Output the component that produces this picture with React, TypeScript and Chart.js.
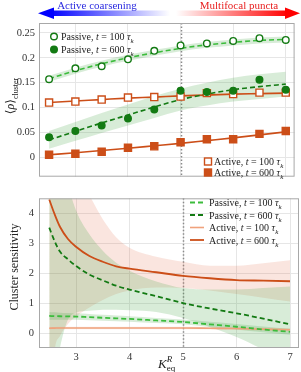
import React, { useEffect, useRef } from "react";
import { Chart, registerables } from "chart.js";
Chart.register(...registerables);

const FONT = '"Liberation Serif", "DejaVu Serif", serif';

// ---------- top panel data ----------
const kEq = [2.5, 3, 3.5, 4, 4.5, 5, 5.5, 6, 6.5, 7];
const passive100 = [0.157, 0.179, 0.183, 0.197, 0.214, 0.225, 0.229, 0.234, 0.2395, 0.236];
const passive600 = [0.04, 0.053, 0.064, 0.078, 0.096, 0.134, 0.131, 0.134, 0.156, 0.136];
const active100 = [0.11, 0.112, 0.116, 0.12, 0.121, 0.122, 0.129, 0.127, 0.13, 0.13];
const active600 = [0.005, 0.007, 0.011, 0.019, 0.022, 0.03, 0.036, 0.036, 0.047, 0.053];
const passive100Fit = [0.158, 0.174, 0.188, 0.2, 0.21, 0.219, 0.226, 0.231, 0.235, 0.237];
const passive600Fit = [0.035, 0.052, 0.069, 0.085, 0.101, 0.116, 0.127, 0.136, 0.142, 0.147];
const active100Fit = [0.11, 0.113, 0.116, 0.119, 0.121, 0.1235, 0.125, 0.127, 0.128, 0.129];
const active600Fit = [0.005, 0.009, 0.0135, 0.018, 0.023, 0.028, 0.0335, 0.039, 0.045, 0.051];
const passive100Half = [0.006, 0.006, 0.006, 0.006, 0.006, 0.006, 0.006, 0.006, 0.006, 0.006];
const passive600Half = [0.018, 0.019, 0.02, 0.021, 0.022, 0.022, 0.023, 0.024, 0.025, 0.025];

const xTicks = [3, 4, 5, 6, 7];
const topYTicks = [0, 0.05, 0.1, 0.15, 0.2, 0.25];
const topYLabels = ["0", "0.05", "0.1", "0.15", "0.2", "0.25"];

// ---------- bottom panel data ----------
const kFine = [2.5, 2.6, 2.7, 2.85, 3, 3.25, 3.5, 3.75, 4, 4.5, 5, 5.5, 6, 6.5, 7];
const sensP100 = [0.57, 0.565, 0.56, 0.555, 0.55, 0.53, 0.51, 0.49, 0.47, 0.42, 0.37, 0.29, 0.21, 0.12, 0.04];
const sensP600 = [3.52, 3.07, 2.72, 2.46, 2.24, 1.95, 1.76, 1.58, 1.45, 1.23, 1.0, 0.82, 0.66, 0.48, 0.29];
const sensA100 = [0.16, 0.165, 0.17, 0.17, 0.17, 0.17, 0.17, 0.17, 0.17, 0.17, 0.17, 0.16, 0.15, 0.13, 0.11];
const sensA600 = [4.46, 3.97, 3.55, 3.14, 2.88, 2.57, 2.38, 2.23, 2.15, 2.03, 1.91, 1.83, 1.77, 1.75, 1.73];
const sensP100Half = [0.13, 0.125, 0.12, 0.115, 0.11, 0.105, 0.1, 0.095, 0.09, 0.085, 0.08, 0.085, 0.09, 0.095, 0.1];
const sensA100Half = [0.04, 0.04, 0.04, 0.04, 0.04, 0.04, 0.04, 0.04, 0.04, 0.04, 0.04, 0.04, 0.045, 0.05, 0.05];
const sensP600Upper = [9, 8, 6.5, 5, 4.1, 3.3, 2.75, 2.35, 2.08, 1.72, 1.5, 1.45, 1.45, 1.5, 1.55];
const sensP600Lower = [-3, -1.5, -0.5, 0.45, 0.68, 0.74, 0.78, 0.78, 0.76, 0.7, 0.5, 0.2, -0.13, -0.55, -0.97];
const sensA600Upper = [9, 8, 7, 6, 5.3, 4.6, 3.8, 3.2, 2.85, 2.55, 2.38, 2.25, 2.25, 2.33, 2.43];
const sensA600Lower = [-3, -0.6, -0.1, 0.3, 0.55, 0.85, 1.1, 1.3, 1.42, 1.52, 1.5, 1.42, 1.3, 1.18, 1.05];
const botYTicks = [0, 1, 2, 3, 4];

// ---------- colours ----------
const DARK_GREEN = "#137a13";
const LIGHT_GREEN = "#3cbc3c";
const ORANGE = "#cc4e18";
const LIGHT_ORANGE = "#f0a27c";
const GREEN_BAND = "rgba(60,160,60,0.2)";
const PINK_BAND = "rgba(230,110,80,0.18)";

const pts = (xs: number[], ys: number[]) => xs.map((x, i) => ({ x, y: ys[i] }));
const shift = (ys: number[], hw: number[], s: number) => ys.map((y, i) => y + s * hw[i]);

type Part = { t: string; it?: boolean; sub?: boolean; sup?: boolean; keep?: boolean };
const fontOf = (p: Part, size: number) =>
  `${p.it ? "italic " : ""}${p.sub || p.sup ? Math.round(size * 0.7) : size}px ${FONT}`;
function drawRich(ctx: CanvasRenderingContext2D, parts: Part[], x: number, y: number, size: number, color: string, align: "left" | "center" = "left") {
  const widths = parts.map((p) => {
    ctx.font = fontOf(p, size);
    return ctx.measureText(p.t).width;
  });
  let total = 0;
  parts.forEach((p, i) => {
    if (!p.keep) total += widths[i];
  });
  let cx = align === "center" ? x - total / 2 : x;
  ctx.fillStyle = color;
  ctx.textBaseline = "alphabetic";
  ctx.textAlign = "left";
  parts.forEach((p, i) => {
    ctx.font = fontOf(p, size);
    const dy = p.sub ? size * 0.3 : p.sup ? -size * 0.42 : 0;
    ctx.fillText(p.t, cx, y + dy);
    if (!p.keep) cx += widths[i];
  });
}
const legendText = (kind: string, t: string): Part[] => [
  { t: kind + ", " },
  { t: "t", it: true },
  { t: " = " + t + " " },
  { t: "τ", it: true },
  { t: "k", it: true, sub: true },
];

const gridOpts = { color: "#e6e6e6", drawTicks: false, lineWidth: 1 };

function frameAndDotted(chart: any) {
  const { ctx, chartArea: a, scales } = chart;
  ctx.save();
  const x5 = Math.round(scales.x.getPixelForValue(5)) + 0.5;
  ctx.strokeStyle = "#8a8a8a";
  ctx.lineWidth = 1.5;
  ctx.setLineDash([1.5, 2]);
  ctx.beginPath();
  ctx.moveTo(x5, a.top);
  ctx.lineTo(x5, a.bottom);
  ctx.stroke();
  ctx.restore();
}
function frame(chart: any) {
  const { ctx, chartArea: a } = chart;
  ctx.save();
  ctx.strokeStyle = "#a8a8a8";
  ctx.lineWidth = 1;
  ctx.strokeRect(a.left + 0.5, a.top + 0.5, a.right - a.left - 1, a.bottom - a.top - 1);
  ctx.restore();
}

function topConfig(): any {
  const lineDs = (data: number[], color: string, dash: number[]) => ({
    type: "line",
    data: pts(kEq, data),
    borderColor: color,
    borderWidth: 1.6,
    borderDash: dash,
    pointRadius: 0,
    tension: 0.4,
    cubicInterpolationMode: "monotone",
    fill: false,
    order: 2,
  });
  const pointDs = (data: number[], color: string, filled: boolean, style: string, r: number) => ({
    type: "line",
    data: pts(kEq, data),
    showLine: false,
    pointStyle: style,
    pointRadius: r,
    pointBorderWidth: 1.4,
    pointBorderColor: color,
    pointBackgroundColor: filled ? color : "#ffffff",
    order: 0,
  });
  const bandDs = (data: number[], fill: any, color: string) => ({
    type: "line",
    data: pts(kEq, data),
    borderWidth: 0,
    pointRadius: 0,
    tension: 0.4,
    cubicInterpolationMode: "monotone",
    fill,
    backgroundColor: color,
    order: 5,
  });
  const plugin = {
    id: "topDeco",
    beforeDatasetsDraw: frameAndDotted,
    afterDraw(chart: any) {
      frame(chart);
      const ctx: CanvasRenderingContext2D = chart.ctx;
      ctx.save();
      // header arrows
      const g1 = ctx.createLinearGradient(50, 0, 170, 0);
      g1.addColorStop(0, "#0000ff");
      g1.addColorStop(1, "rgba(255,255,255,1)");
      ctx.fillStyle = g1;
      ctx.fillRect(50, 10.5, 120, 5.5);
      ctx.fillStyle = "#0000ff";
      ctx.beginPath();
      ctx.moveTo(38, 13.25);
      ctx.lineTo(54, 7.5);
      ctx.lineTo(54, 19);
      ctx.closePath();
      ctx.fill();
      const g2 = ctx.createLinearGradient(176, 0, 288, 0);
      g2.addColorStop(0, "rgba(255,255,255,1)");
      g2.addColorStop(1, "#ff0000");
      ctx.fillStyle = g2;
      ctx.fillRect(176, 10.5, 112, 5.5);
      ctx.fillStyle = "#ff0000";
      ctx.beginPath();
      ctx.moveTo(300, 13.25);
      ctx.lineTo(285, 7.5);
      ctx.lineTo(285, 19);
      ctx.closePath();
      ctx.fill();
      drawRich(ctx, [{ t: "Active coarsening" }], 97, 8.5, 11, "#2b2be0", "center");
      drawRich(ctx, [{ t: "Multifocal puncta" }], 239, 8.5, 11, "#e82020", "center");
      // y title
      ctx.save();
      ctx.translate(14, 96);
      ctx.rotate(-Math.PI / 2);
      drawRich(ctx, [{ t: "⟨" }, { t: "ρ", it: true }, { t: "⟩" }, { t: "cluster", sub: true }], 0, 0, 12, "#222", "center");
      ctx.restore();
      // legends
      const drawCircle = (x: number, y: number, filled: boolean) => {
        ctx.beginPath();
        ctx.arc(x, y, 3.3, 0, Math.PI * 2);
        ctx.fillStyle = filled ? DARK_GREEN : "#fff";
        ctx.fill();
        ctx.strokeStyle = DARK_GREEN;
        ctx.lineWidth = 1.4;
        ctx.stroke();
      };
      drawCircle(54, 36.5, false);
      drawCircle(54, 49.5, true);
      drawRich(ctx, legendText("Passive", "100"), 61, 40, 10, "#222");
      drawRich(ctx, legendText("Passive", "600"), 61, 53, 10, "#222");
      const drawSq = (x: number, y: number, filled: boolean) => {
        ctx.fillStyle = filled ? ORANGE : "#fff";
        ctx.fillRect(x - 3.5, y - 3.5, 7, 7);
        ctx.strokeStyle = ORANGE;
        ctx.lineWidth = 1.4;
        ctx.strokeRect(x - 3.5, y - 3.5, 7, 7);
      };
      drawSq(208, 161.5, false);
      drawSq(208, 172.5, true);
      drawRich(ctx, legendText("Active", "100"), 214, 165, 10, "#222");
      drawRich(ctx, legendText("Active", "600"), 214, 176, 10, "#222");
      ctx.restore();
    },
  };
  return {
    type: "line",
    data: {
      datasets: [
        pointDs(passive100, DARK_GREEN, false, "circle", 3.3),
        pointDs(passive600, DARK_GREEN, true, "circle", 3.3),
        pointDs(active100, ORANGE, false, "rect", 5),
        pointDs(active600, ORANGE, true, "rect", 5),
        lineDs(passive100Fit, LIGHT_GREEN, [5, 3]),
        lineDs(passive600Fit, DARK_GREEN, [5, 3]),
        lineDs(active100Fit, ORANGE, []),
        lineDs(active600Fit, ORANGE, []),
        bandDs(shift(passive100Fit, passive100Half, -1), false, GREEN_BAND),
        bandDs(shift(passive100Fit, passive100Half, 1), "-1", GREEN_BAND),
        bandDs(shift(passive600Fit, passive600Half, -1), false, GREEN_BAND),
        bandDs(shift(passive600Fit, passive600Half, 1), "-1", GREEN_BAND),
      ],
    },
    options: {
      animation: false,
      responsive: false,
      maintainAspectRatio: false,
      layout: { padding: { left: 0, right: 2, top: 23, bottom: 2 } },
      plugins: { legend: { display: false }, tooltip: { enabled: false } },
      scales: {
        x: {
          type: "linear",
          min: 2.3084,
          max: 7.168,
          afterBuildTicks: (s: any) => {
            s.ticks = xTicks.map((v) => ({ value: v }));
          },
          ticks: { display: false },
          grid: gridOpts,
          border: { display: false },
          afterFit: (s: any) => {
            s.height = 0;
          },
        },
        y: {
          type: "linear",
          min: -0.0391,
          max: 0.27,
          afterBuildTicks: (s: any) => {
            s.ticks = topYTicks.map((v) => ({ value: v }));
          },
          ticks: {
            font: { family: FONT, size: 10.5 },
            color: "#333",
            padding: 4,
            callback: (v: number) => topYLabels[topYTicks.indexOf(v)] ?? String(v),
          },
          grid: gridOpts,
          border: { display: false },
          afterFit: (s: any) => {
            s.width = 39;
          },
        },
      },
    },
    plugins: [plugin],
  };
}

function bottomConfig(): any {
  const lineDs = (data: number[], color: string, dash: number[], w: number) => ({
    type: "line",
    data: pts(kFine, data),
    borderColor: color,
    borderWidth: w,
    borderDash: dash,
    pointRadius: 0,
    tension: 0.4,
    cubicInterpolationMode: "monotone",
    fill: false,
    order: 1,
  });
  const bandDs = (data: number[], fill: any, color: string) => ({
    type: "line",
    data: pts(kFine, data),
    borderWidth: 0,
    pointRadius: 0,
    tension: 0.4,
    cubicInterpolationMode: "monotone",
    fill,
    backgroundColor: color,
    order: 5,
  });
  const OFF = 187;
  const plugin = {
    id: "botDeco",
    beforeDatasetsDraw: frameAndDotted,
    afterDraw(chart: any) {
      frame(chart);
      const ctx: CanvasRenderingContext2D = chart.ctx;
      ctx.save();
      ctx.save();
      ctx.translate(18, 267 - OFF);
      ctx.rotate(-Math.PI / 2);
      drawRich(ctx, [{ t: "Cluster sensitivity" }], 0, 0, 12, "#222", "center");
      ctx.restore();
      drawRich(
        ctx,
        [{ t: "K", it: true }, { t: "R", it: true, sup: true, keep: true }, { t: "eq", sub: true }],
        158,
        367.5 - OFF,
        13,
        "#222"
      );
      const rows: [string, string, string, number[], number][] = [
        ["Passive", "100", LIGHT_GREEN, [5, 3], 1.8],
        ["Passive", "600", DARK_GREEN, [5, 3], 1.8],
        ["Active", "100", LIGHT_ORANGE, [], 1.6],
        ["Active", "600", ORANGE, [], 1.8],
      ];
      rows.forEach((r, i) => {
        const y = 202.5 + i * 12.5 - OFF;
        ctx.strokeStyle = r[2];
        ctx.lineWidth = r[4];
        ctx.setLineDash(r[3]);
        ctx.beginPath();
        ctx.moveTo(190, y);
        ctx.lineTo(204, y);
        ctx.stroke();
        ctx.setLineDash([]);
        drawRich(ctx, legendText(r[0], r[1]), 209, y + 3.5, 10, "#222");
      });
      ctx.restore();
    },
  };
  return {
    type: "line",
    data: {
      datasets: [
        lineDs(sensP100, LIGHT_GREEN, [5, 3], 1.8),
        lineDs(sensP600, DARK_GREEN, [5, 3], 1.8),
        lineDs(sensA100, LIGHT_ORANGE, [], 1.6),
        lineDs(sensA600, ORANGE, [], 1.8),
        bandDs(shift(sensA100, sensA100Half, -1), false, "rgba(230,120,80,0.15)"),
        bandDs(shift(sensA100, sensA100Half, 1), "-1", "rgba(230,120,80,0.15)"),
        bandDs(shift(sensP100, sensP100Half, -1), false, GREEN_BAND),
        bandDs(shift(sensP100, sensP100Half, 1), "-1", GREEN_BAND),
        bandDs(sensP600Lower, false, GREEN_BAND),
        bandDs(sensP600Upper, "-1", GREEN_BAND),
        bandDs(sensA600Lower, false, PINK_BAND),
        bandDs(sensA600Upper, "-1", PINK_BAND),
      ],
    },
    options: {
      animation: false,
      responsive: false,
      maintainAspectRatio: false,
      layout: { padding: { left: 0, right: 2, top: 1, bottom: 0 } },
      plugins: { legend: { display: false }, tooltip: { enabled: false } },
      scales: {
        x: {
          type: "linear",
          min: 2.3084,
          max: 7.168,
          afterBuildTicks: (s: any) => {
            s.ticks = xTicks.map((v) => ({ value: v }));
          },
          ticks: { font: { family: FONT, size: 10.5 }, color: "#333", padding: 3, maxRotation: 0, callback: (v: number) => String(v) },
          grid: gridOpts,
          border: { display: false },
          afterFit: (s: any) => {
            s.height = 24;
          },
        },
        y: {
          type: "linear",
          min: -0.5,
          max: 4.5,
          afterBuildTicks: (s: any) => {
            s.ticks = botYTicks.map((v) => ({ value: v }));
          },
          ticks: { font: { family: FONT, size: 10.5 }, color: "#333", padding: 5, callback: (v: number) => String(v) },
          grid: gridOpts,
          border: { display: false },
          afterFit: (s: any) => {
            s.width = 39;
          },
        },
      },
    },
    plugins: [plugin],
  };
}

export default function App() {
  const topRef = useRef<HTMLCanvasElement>(null);
  const botRef = useRef<HTMLCanvasElement>(null);
  useEffect(() => {
    const c1 = new Chart(topRef.current as HTMLCanvasElement, topConfig());
    const c2 = new Chart(botRef.current as HTMLCanvasElement, bottomConfig());
    return () => {
      c1.destroy();
      c2.destroy();
    };
  }, []);
  return (
    <div style={{ position: "absolute", left: 0, top: 0, width: 301, height: 372, background: "#fff" }}>
      <canvas ref={topRef} width={301} height={187} style={{ position: "absolute", left: 0, top: 0, width: 301, height: 187 }} />
      <canvas ref={botRef} width={301} height={185} style={{ position: "absolute", left: 0, top: 187, width: 301, height: 185 }} />
    </div>
  );
}
